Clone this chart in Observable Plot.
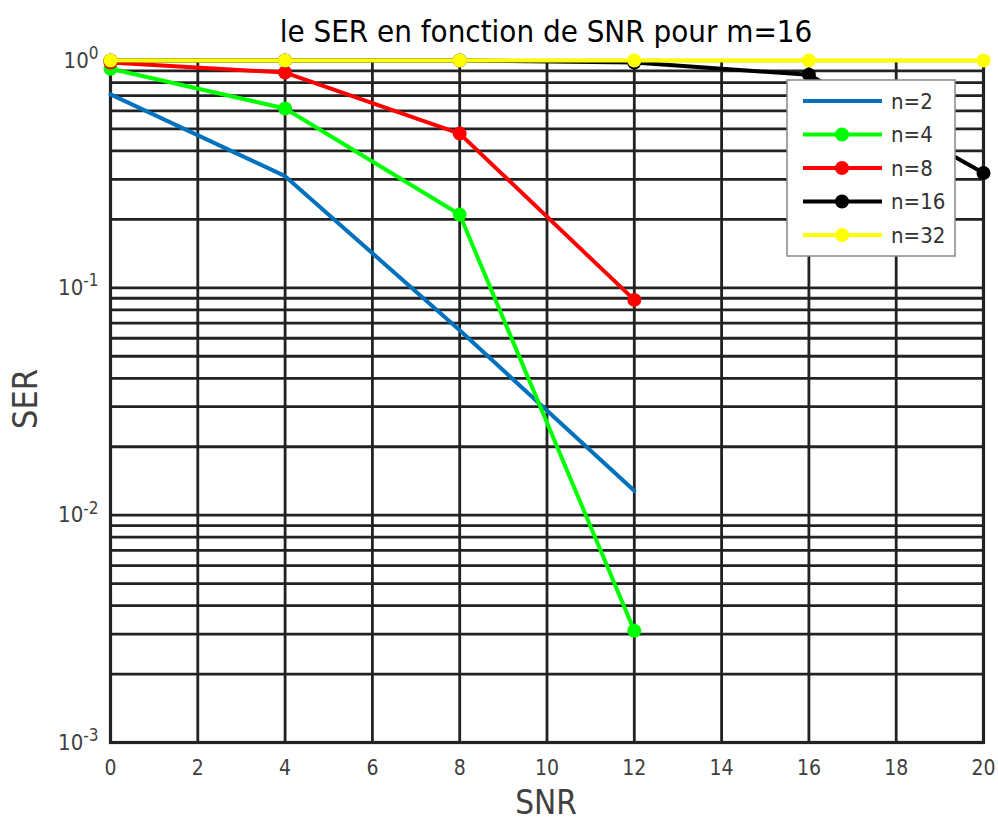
<!DOCTYPE html>
<html>
<head>
<meta charset="utf-8">
<script src="https://cdn.jsdelivr.net/npm/d3@7"></script>
<script src="https://cdn.jsdelivr.net/npm/@observablehq/plot@0.6"></script>
<style>
  html, body { margin: 0; padding: 0; background: #fff; }
  #chart { width: 998px; height: 825px; }
</style>
</head>
<body>
<div id="chart"></div>
<script>
const snr = [0, 4, 8, 12, 16, 20];
const serN2 = [0.71, 0.31, 0.065, 0.0128];
const serN4 = [0.92, 0.615, 0.21, 0.0031];
const serN8 = [0.98, 0.885, 0.477, 0.0885];
const serN16 = [1, 1, 1, 0.98, 0.865, 0.32];
const serN32 = [1, 1, 1, 1, 1, 1];
const seriesNames = ["n=2", "n=4", "n=8", "n=16", "n=32"];
const seriesColors = ["#0072BD", "#00FF00", "#FF0000", "#000000", "#FFFF00"];
const seriesMarkers = [false, true, true, true, true];
const xTicks = [0, 2, 4, 6, 8, 10, 12, 14, 16, 18, 20];
const yMajor = [0.001, 0.01, 0.1, 1];
const titleText = "le SER en fonction de SNR pour m=16";
const xLabel = "SNR";
const yLabel = "SER";

const allSer = [serN2, serN4, serN8, serN16, serN32];
const data = allSer.flatMap((vals, i) =>
  vals.map((v, j) => ({snr: snr[j], ser: v, series: seriesNames[i]})));

const yMinor = [];
for (let k = -3; k < 0; k++) for (let m = 2; m <= 9; m++) yMinor.push(m * Math.pow(10, k));

const FONT = "'DejaVu Sans Condensed', 'DejaVu Sans', sans-serif";
const gridColor = "#222";

const marks = [
  Plot.ruleY(yMinor, {stroke: gridColor, strokeWidth: 2.8}),
  Plot.ruleY(yMajor, {stroke: gridColor, strokeWidth: 2.8}),
  Plot.ruleX(xTicks, {stroke: gridColor, strokeWidth: 2.8}),
  Plot.frame({stroke: gridColor, strokeWidth: 3.2}),
  Plot.axisX({ticks: xTicks, tickSize: 0, tickPadding: 18, label: null, fill: "#404040"}),
  Plot.axisY({ticks: yMajor, tickSize: 0, tickPadding: 12, label: null, fill: "#404040",
              tickFormat: d => "10^" + Math.round(Math.log10(d))})
];
seriesNames.forEach((name, i) => {
  const d = data.filter(r => r.series === name);
  marks.push(Plot.line(d, {x: "snr", y: "ser", stroke: seriesColors[i], strokeWidth: 4}));
  if (seriesMarkers[i]) marks.push(Plot.dot(d, {x: "snr", y: "ser", fill: seriesColors[i], r: 7, symbol: "circle"}));
});

const plot = Plot.plot({
  width: 998,
  height: 825,
  marginLeft: 110,
  marginRight: 15,
  marginTop: 60,
  marginBottom: 83,
  style: {fontFamily: FONT, background: "#fff"},
  x: {domain: [0, 20]},
  y: {type: "log", domain: [0.001, 1]},
  marks
});
document.getElementById("chart").appendChild(plot);

const svg = d3.select(plot);
svg.selectAll('g[aria-label="x-axis tick label"] text')
  .style("font-family", FONT).style("font-size", "21px");
// superscript y tick labels
svg.selectAll('g[aria-label="y-axis tick label"] text').each(function() {
  const t = d3.select(this);
  const parts = t.text().split("^");
  if (parts.length !== 2) return;
  t.style("font-family", FONT).style("font-size", "22px");
  t.text(null);
  t.append("tspan").text(parts[0]);
  t.append("tspan").attr("dy", "-0.5em").style("font-size", "17px").text(parts[1]);
});

// title
svg.append("text").attr("x", 546).attr("y", 42).attr("text-anchor", "middle")
  .style("font-family", FONT).style("font-size", "31px").attr("fill", "#000").text(titleText);
// axis labels
svg.append("text").attr("x", 546).attr("y", 814).attr("text-anchor", "middle")
  .style("font-family", FONT).style("font-size", "33px").attr("fill", "#404040").text(xLabel);
svg.append("text").attr("transform", "translate(37,399) rotate(-90)").attr("text-anchor", "middle")
  .style("font-family", FONT).style("font-size", "34px").attr("fill", "#404040").text(yLabel);

// legend
const lg = svg.append("g").attr("transform", "translate(787,80)");
lg.append("rect").attr("x", 0).attr("y", 0).attr("width", 168).attr("height", 176)
  .attr("fill", "#fff").attr("stroke", "#888").attr("stroke-width", 1.5);
seriesNames.forEach((name, i) => {
  const yy = 21 + i * 33.5;
  lg.append("line").attr("x1", 16).attr("x2", 95).attr("y1", yy).attr("y2", yy)
    .attr("stroke", seriesColors[i]).attr("stroke-width", 4);
  if (seriesMarkers[i]) lg.append("circle").attr("cx", 55).attr("cy", yy).attr("r", 7).attr("fill", seriesColors[i]);
  lg.append("text").attr("x", 104).attr("y", yy).attr("dy", "0.36em").attr("text-anchor", "start")
    .style("font-family", FONT).style("font-size", "22px").attr("fill", "#333").text(name);
});
</script>
</body>
</html>
